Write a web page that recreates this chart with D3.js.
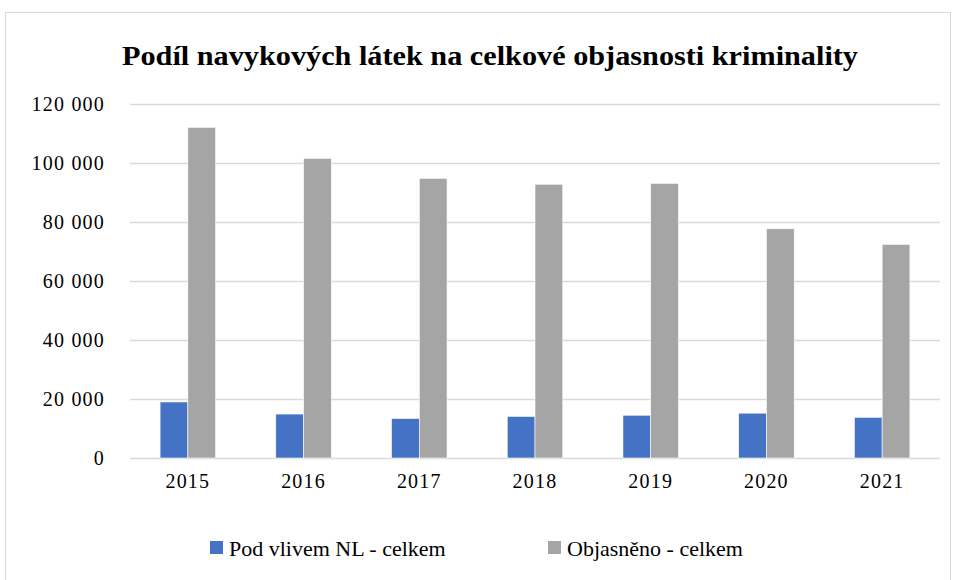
<!DOCTYPE html>
<html>
<head>
<meta charset="utf-8">
<script src="https://cdn.jsdelivr.net/npm/d3@7"></script>
<style>
  body { margin: 0; background: #fff; }
  svg text { font-family: "Liberation Serif", "DejaVu Serif", serif; fill: #000; }
</style>
</head>
<body>
<svg width="956" height="580"></svg>
<script>
// chart data
var years = ['2015', '2016', '2017', '2018', '2019', '2020', '2021'];
var seriesNames = ['Pod vlivem NL - celkem', 'Objasněno - celkem'];
var podVlivem = [19000, 14900, 13400, 14100, 14500, 15200, 13800];
var objasneno = [112100, 101600, 94800, 92800, 93100, 77700, 72400];
var yTicks = [0, 20000, 40000, 60000, 80000, 100000, 120000];
var colors = ['#4472C4', '#A5A5A5'];

var width = 956;
var height = 580;
var margin = { top: 104, bottom: 122, left: 130, right: 16 };

var svg = d3.select('svg');

// chart frame
svg.append('rect')
    .attr('x', 5.5).attr('y', 12.5)
    .attr('width', 945).attr('height', 570)
    .attr('fill', '#fff')
    .attr('stroke', '#D9D9D9');

svg.append('text')
    .attr('x', 490).attr('y', 65)
    .attr('text-anchor', 'middle')
    .attr('textLength', 736)
    .attr('lengthAdjust', 'spacingAndGlyphs')
    .style('font-size', '28px')
    .style('font-weight', 'bold')
    .text('Podíl navykových látek na celkové objasnosti kriminality');

// scales
var xScale = d3.scaleBand()
    .domain(years)
    .range([margin.left, width - margin.right])
    .paddingInner(0.52)
    .paddingOuter(0.26);

var yScale = d3.scaleLinear()
    .domain([0, 120000])
    .range([height - margin.bottom, margin.top]);

var xSub = d3.scaleBand()
    .domain(seriesNames)
    .range([0, xScale.bandwidth()]);

var fmt = function (d) { return d3.format(',')(d).replace(/,/g, ' '); };

// gridlines + y labels
var yAxis = d3.axisLeft(yScale)
    .tickValues(yTicks)
    .tickSize(-(width - margin.left - margin.right))
    .tickPadding(25)
    .tickFormat(fmt);

var gy = svg.append('g')
    .attr('transform', 'translate(' + [margin.left, 0] + ')')
    .call(yAxis);
gy.select('.domain').remove();
gy.selectAll('line').attr('stroke', '#D9D9D9').attr('stroke-width', 1.3);
gy.selectAll('text').style('font-size', '20px').style('letter-spacing', '1.2px');

// x labels
var xAxis = d3.axisBottom(xScale).tickSize(0).tickPadding(16);
var gx = svg.append('g')
    .attr('transform', 'translate(' + [0, height - margin.bottom] + ')')
    .call(xAxis);
gx.select('.domain').remove();
gx.selectAll('text').style('font-size', '20px').style('letter-spacing', '1.2px');

// bars
var rows = years.map(function (y, i) {
    return { year: y, values: [podVlivem[i], objasneno[i]] };
});

var groups = svg.selectAll('g.year')
    .data(rows)
    .enter().append('g')
    .attr('class', 'year')
    .attr('transform', function (d) { return 'translate(' + [xScale(d.year), 0] + ')'; });

groups.selectAll('rect')
    .data(function (d) { return d.values.map(function (v, k) { return { name: seriesNames[k], value: v, k: k }; }); })
    .enter().append('rect')
    .attr('x', function (d) { return xSub(d.name); })
    .attr('y', function (d) { return yScale(d.value); })
    .attr('width', xSub.bandwidth())
    .attr('height', function (d) { return yScale(0) - yScale(d.value); })
    .attr('fill', function (d) { return colors[d.k]; })
    .attr('stroke', '#fff')
    .attr('stroke-width', 0.6);

// legend
var legendX = [210, 548];
var legend = svg.selectAll('g.legend')
    .data(seriesNames)
    .enter().append('g')
    .attr('class', 'legend')
    .attr('transform', function (d, i) { return 'translate(' + [legendX[i], 541] + ')'; });

legend.append('rect')
    .attr('width', 13).attr('height', 13)
    .attr('fill', function (d, i) { return colors[i]; });

legend.append('text')
    .attr('x', 19).attr('y', 15)
    .style('font-size', '22px')
    .text(function (d) { return d; });
</script>
</body>
</html>
